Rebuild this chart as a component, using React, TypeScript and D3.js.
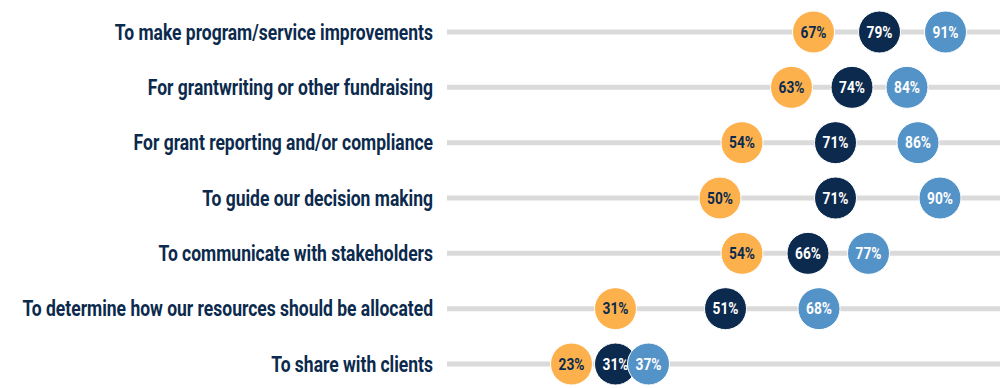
import * as d3 from "d3";

const categories = [
  "To make program/service improvements",
  "For grantwriting or other fundraising",
  "For grant reporting and/or compliance",
  "To guide our decision making",
  "To communicate with stakeholders",
  "To determine how our resources should be allocated",
  "To share with clients",
];

const seriesA = [67, 63, 54, 50, 54, 31, 23];
const seriesB = [79, 74, 71, 71, 66, 51, 31];
const seriesC = [91, 84, 86, 90, 77, 68, 37];

const series = [
  { key: "a", values: seriesA, fill: "#FDB14D", text: "#0B2A4D" },
  { key: "b", values: seriesB, fill: "#0B2A4D", text: "#ffffff" },
  { key: "c", values: seriesC, fill: "#5493C8", text: "#ffffff" },
];

const width = 1000;
const height = 388;
const font = "Roboto, 'Noto Sans', sans-serif";
const squeeze = 0.795; // fake a condensed face

export default function App() {
  const x = d3.scaleLinear().domain([0, 100]).range([445, 995]);
  const y = d3.scalePoint<string>().domain(categories).range([32, 364]);
  const r = 21;

  return (
    <svg
      width={width}
      height={height}
      style={{ position: "absolute", left: 0, top: 0, background: "#fff" }}
    >
      {/* tracks + labels */}
      {categories.map((c) => (
        <g key={c} transform={`translate(0,${y(c)})`}>
          <line x1={447} x2={width} y1={0} y2={0} stroke="#DADADA" strokeWidth={5} />
          <text
            transform={`translate(433,0) scale(${squeeze},1)`}
            dy="0.35em"
            textAnchor="end"
            fontFamily={font}
            fontWeight="bold"
            fontSize={22}
            fill="#0B2A4D"
          >
            {c}
          </text>
        </g>
      ))}

      {/* dots */}
      {series.map((s) => (
        <g key={s.key}>
          {s.values.map((v, i) => (
            <g key={i} transform={`translate(${x(v)},${y(categories[i])})`}>
              <circle r={r} fill={s.fill} stroke="#fff" strokeWidth={1} />
              <text
                transform="scale(0.86,1)"
                dy="0.36em"
                textAnchor="middle"
                fontFamily={font}
                fontWeight="bold"
                fontSize={16}
                fill={s.text}
              >
                {v}%
              </text>
            </g>
          ))}
        </g>
      ))}
    </svg>
  );
}
